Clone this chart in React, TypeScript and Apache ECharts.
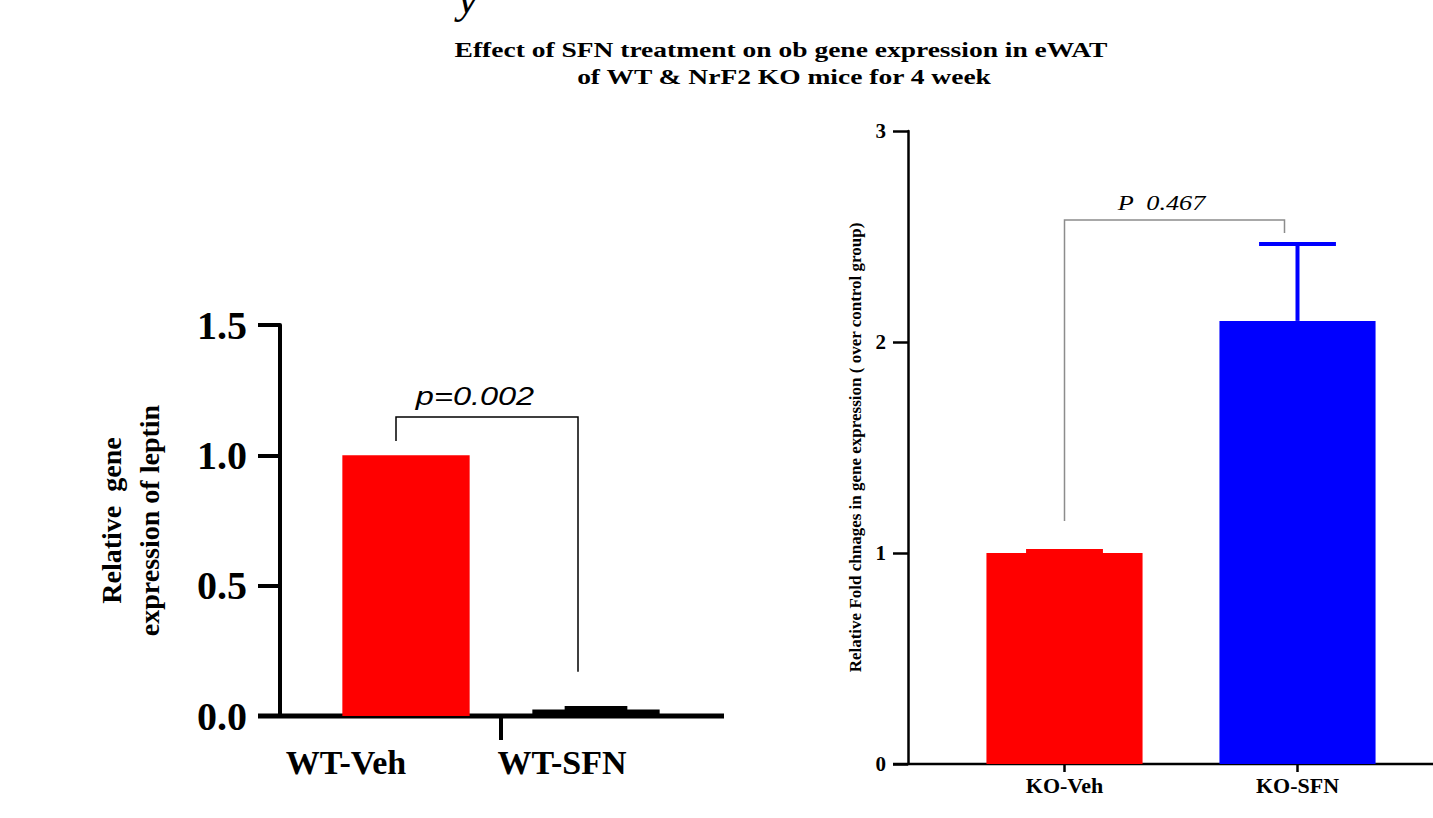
import React, { useEffect, useRef } from 'react';
import * as echarts from 'echarts';

// ---------- data ----------
const titleLines = [
  'Effect of SFN treatment on ob gene expression in eWAT',
  'of WT & NrF2 KO mice for 4 week',
];

const wtCategories = ['WT-Veh', 'WT-SFN'];
const wtValues = [1.0, 0.025];
const wtErrorTop = [1.0, 0.031];
const wtBracketY = [1.055, 1.147, 0.17]; // left leg bottom, bracket top, right leg bottom
const wtPLabel = 'p=0.002';
const wtYName = 'Relative  gene\nexpression of leptin';

const koCategories = ['KO-Veh', 'KO-SFN'];
const koValues = [1.0, 2.1];
const koErrorTop = [1.01, 2.465];
const koBracketY = [1.152, 2.578, 2.517];
const koPLabel = 'P  0.467';
const koYName = 'Relative Fold chnages in gene expression ( over control group)';

// ---------- styles ----------
const SERIF = '"Liberation Serif", "Times New Roman", serif';
const wtColors = ['#ff0000', '#000000'];
const koColors = ['#ff0000', '#0000ff'];

const G0 = { left: 311, top: 325, width: 380, height: 391 };
const G1 = { left: 948, top: 131, width: 466, height: 633 };

function errorRender(colors: string[], lw: number) {
  return (params: any, api: any) => {
    const i = api.value(0);
    const base = api.coord([i, api.value(1)]);
    const top = api.coord([i, api.value(2)]);
    const band = api.size([1, 0])[0];
    const half = band * 0.165;
    return {
      type: 'group',
      children: [
        { type: 'line', shape: { x1: base[0], y1: base[1], x2: top[0], y2: top[1] }, style: { stroke: colors[i], lineWidth: lw } },
        { type: 'line', shape: { x1: top[0] - half, y1: top[1], x2: top[0] + half, y2: top[1] }, style: { stroke: colors[i], lineWidth: lw } },
      ],
    };
  };
}

function bracketRender(ys: number[], label: string, o: any) {
  return (params: any, api: any) => {
    const l = api.coord([0, ys[1]]);
    const r = api.coord([1, ys[1]]);
    const lx = l[0] + o.lOff;
    const rx = r[0] + o.rOff;
    const lb = api.coord([0, ys[0]])[1];
    const rb = api.coord([1, ys[2]])[1];
    const ty = l[1];
    return {
      type: 'group',
      children: [
        { type: 'polyline', shape: { points: [[lx, lb], [lx, ty], [rx, ty], [rx, rb]] }, style: { stroke: o.stroke, lineWidth: o.lw, fill: 'none' } },
        {
          type: 'text', x: (lx + rx) / 2 + o.dx, y: ty - o.gap, scaleX: o.scaleX, scaleY: 1,
          style: {
            text: label, x: 0, y: 0, align: 'center', verticalAlign: 'bottom',
            textAlign: 'center', textVerticalAlign: 'bottom',
            fontSize: o.fontSize, fontFamily: o.fontFamily, fontStyle: 'italic', fontWeight: 'normal', fill: '#000',
          },
        },
      ],
    };
  };
}

export default function App() {
  const ref = useRef<HTMLDivElement>(null);
  useEffect(() => {
    if (!ref.current) return;
    const chart = echarts.init(ref.current, null, { renderer: 'svg' });
    const boldSerif = (size: number) => ({ fontFamily: SERIF, fontWeight: 'bold' as const, fontSize: size, color: '#000' });
    chart.setOption({
      animation: false,
      backgroundColor: '#ffffff',
      grid: [
        { ...G0, containLabel: false },
        { ...G1, containLabel: false },
      ],
      xAxis: [
        {
          gridIndex: 0, type: 'category', data: wtCategories,
          axisLine: { show: false }, axisTick: { show: false }, splitLine: { show: false },
          axisLabel: {
            interval: 0, margin: 29, ...boldSerif(34),
            formatter: (v: string, i: number) => (i === 0 ? `{a|${v}}` : `{b|${v}}`),
            rich: {
              a: { ...boldSerif(34), padding: [0, 120, 0, 0] },
              b: { ...boldSerif(34), padding: [0, 68, 0, 0] },
            },
          },
        },
        {
          gridIndex: 1, type: 'category', data: koCategories,
          axisLine: { show: false },
          axisTick: { show: true, alignWithLabel: true, length: 8, lineStyle: { color: '#000', width: 2.5 } },
          splitLine: { show: false },
          axisLabel: { interval: 0, margin: 10, ...boldSerif(22) },
        },
      ],
      yAxis: [
        {
          gridIndex: 0, type: 'value', min: 0, max: 1.5, interval: 0.5, offset: 31,
          splitLine: { show: false },
          axisLine: { show: true, lineStyle: { color: '#000', width: 4 } },
          axisTick: { show: true, length: 22, lineStyle: { color: '#000', width: 4 } },
          axisLabel: { margin: 33, ...boldSerif(40), formatter: (v: number) => v.toFixed(1) },
          name: wtYName, nameLocation: 'middle', nameRotate: 90, nameGap: 112,
          nameTextStyle: { ...boldSerif(28), lineHeight: 38, align: 'center' },
        },
        {
          gridIndex: 1, type: 'value', min: 0, max: 3, interval: 1, offset: 40,
          splitLine: { show: false },
          axisLine: { show: true, lineStyle: { color: '#000', width: 2.5 } },
          axisTick: { show: true, length: 15, lineStyle: { color: '#000', width: 2.5 } },
          axisLabel: { margin: 22, ...boldSerif(21) },
          name: koYName, nameLocation: 'middle', nameRotate: 90, nameGap: 44,
          nameTextStyle: { ...boldSerif(17) },
        },
      ],
      series: [
        {
          type: 'bar', xAxisIndex: 0, yAxisIndex: 0, barWidth: '67%',
          data: wtValues.map((v, i) => ({ value: v, itemStyle: { color: wtColors[i] } })),
        },
        {
          type: 'custom', xAxisIndex: 0, yAxisIndex: 0,
          renderItem: errorRender(wtColors, 4),
          encode: { x: 0, y: [1, 2] },
          data: wtCategories.map((_, i) => [i, wtValues[i], wtErrorTop[i]]).filter((d) => d[2] > d[1]),
        },
        {
          type: 'custom', xAxisIndex: 0, yAxisIndex: 0, clip: false,
          renderItem: bracketRender(wtBracketY, wtPLabel, { lOff: -10, rOff: -18, stroke: '#000', lw: 1.5, dx: -12, gap: 8, scaleX: 1.3, fontSize: 25, fontFamily: 'Liberation Sans' }),
          encode: { x: 0, y: 1 },
          data: [[0, wtBracketY[1]]],
        },
        {
          type: 'bar', xAxisIndex: 1, yAxisIndex: 1, barWidth: '67%',
          data: koValues.map((v, i) => ({ value: v, itemStyle: { color: koColors[i] } })),
        },
        {
          type: 'custom', xAxisIndex: 1, yAxisIndex: 1,
          renderItem: errorRender(koColors, 4),
          encode: { x: 0, y: [1, 2] },
          data: koCategories.map((_, i) => [i, koValues[i], koErrorTop[i]]).filter((d) => d[2] > d[1]),
        },
        {
          type: 'custom', xAxisIndex: 1, yAxisIndex: 1, clip: false,
          renderItem: bracketRender(koBracketY, koPLabel, { lOff: 0, rOff: -13, stroke: '#8c8c8c', lw: 1.5, dx: -13, gap: 7, scaleX: 1.25, fontSize: 21, fontFamily: 'Liberation Serif' }),
          encode: { x: 0, y: 1 },
          data: [[0, koBracketY[1]]],
        },
      ],
      graphic: [
        {
          type: 'text', x: 458, y: 20,
          style: { text: 'y', x: 0, y: 0, textAlign: 'left', textVerticalAlign: 'bottom', fontSize: 44, fontFamily: SERIF, fontStyle: 'italic', fill: '#000' },
        },
        {
          type: 'text', x: 781, y: 38, scaleX: 1.25, scaleY: 1,
          style: { text: titleLines[0], x: 0, y: 0, textAlign: 'center', textVerticalAlign: 'top', fontSize: 22, fontWeight: 'bold', fontFamily: SERIF, fill: '#000' },
        },
        {
          type: 'text', x: 784, y: 65, scaleX: 1.25, scaleY: 1,
          style: { text: titleLines[1], x: 0, y: 0, textAlign: 'center', textVerticalAlign: 'top', fontSize: 22, fontWeight: 'bold', fontFamily: SERIF, fill: '#000' },
        },
        { type: 'line', shape: { x1: 258, y1: G0.top + G0.height, x2: 724, y2: G0.top + G0.height }, style: { stroke: '#000', lineWidth: 5 } },
        { type: 'line', shape: { x1: G0.left + G0.width / 2, y1: G0.top + G0.height, x2: G0.left + G0.width / 2, y2: G0.top + G0.height + 24 }, style: { stroke: '#000', lineWidth: 4 } },
        { type: 'line', shape: { x1: 893, y1: G1.top + G1.height, x2: 1433, y2: G1.top + G1.height }, style: { stroke: '#000', lineWidth: 2.5 } },
      ],
    });
    return () => chart.dispose();
  }, []);
  return <div ref={ref} style={{ position: 'fixed', left: 0, top: 0, width: 1433, height: 818 }} />;
}
